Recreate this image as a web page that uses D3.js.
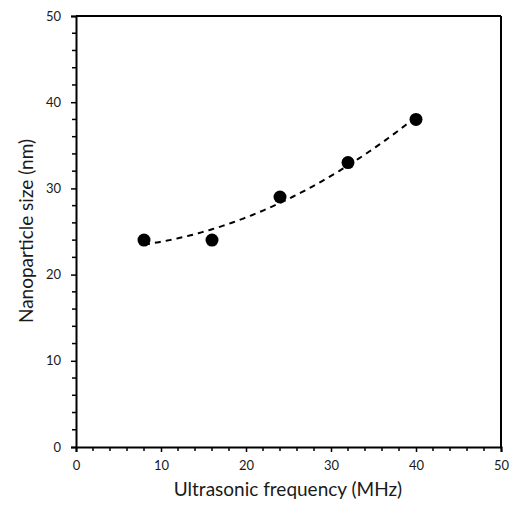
<!DOCTYPE html>
<html>
<head>
<meta charset="utf-8">
<script src="https://cdn.jsdelivr.net/npm/d3@7"></script>
<style>
body { margin: 0; background-color: white; }
text { font-family: Lato, "Open Sans", sans-serif; fill: #1a1a1a; }
</style>
</head>
<body>
<svg id="chart"></svg>
</body>
<script>
// measured points (MHz, nm)
var freq = [8, 16, 24, 32, 40];
var size = [24, 24, 29, 33, 38];
var xTicks = [0, 10, 20, 30, 40, 50];
var yTicks = [0, 10, 20, 30, 40, 50];

const width = 512;
const height = 509;
var svg = d3.select("#chart").attr("width", width).attr("height", height);

var xscale = d3.scaleLinear().domain([0, 50]).range([76, 501]);
var yscale = d3.scaleLinear().domain([0, 50]).range([447, 16]);

// second order polynomial trendline, least squares like excel does
function quadFit(xs, ys) {
  var n = xs.length, S = [0, 0, 0, 0, 0], T = [0, 0, 0];
  for (var i = 0; i < n; ++i) {
    for (var k = 0; k < 5; ++k) S[k] += Math.pow(xs[i], k);
    for (var k = 0; k < 3; ++k) T[k] += Math.pow(xs[i], k) * ys[i];
  }
  var M = [[S[0], S[1], S[2], T[0]], [S[1], S[2], S[3], T[1]], [S[2], S[3], S[4], T[2]]];
  for (var c = 0; c < 3; ++c) {
    for (var r = c + 1; r < 3; ++r) {
      var f = M[r][c] / M[c][c];
      for (var j = c; j < 4; ++j) M[r][j] -= f * M[c][j];
    }
  }
  var coef = [0, 0, 0];
  for (var r = 2; r >= 0; --r) {
    var s = M[r][3];
    for (var j = r + 1; j < 3; ++j) s -= M[r][j] * coef[j];
    coef[r] = s / M[r][r];
  }
  return (x) => coef[0] + coef[1] * x + coef[2] * x * x;
}
var fit = quadFit(freq, size);
var fitX = d3.range(freq[0], freq[freq.length - 1] + 0.01, 0.25);

// minor ticks
var minorX = d3.range(0, 50.01, 2).filter(d => d % 10 != 0);
var minorY = d3.range(0, 50.01, 2).filter(d => d % 10 != 0);

svg.append("g").selectAll("line").data(minorX).enter().append("line")
  .attr("x1", d => xscale(d)).attr("x2", d => xscale(d))
  .attr("y1", 447).attr("y2", 451).attr("stroke", "black").attr("stroke-width", 1.5);
svg.append("g").selectAll("line").data(minorY).enter().append("line")
  .attr("y1", d => yscale(d)).attr("y2", d => yscale(d))
  .attr("x1", 72).attr("x2", 76).attr("stroke", "black").attr("stroke-width", 1.5);

var xAxis = svg.append("g").attr("transform", "translate(0,447)")
  .call(d3.axisBottom(xscale).tickValues(xTicks).tickSize(5).tickPadding(9));
var yAxis = svg.append("g").attr("transform", "translate(76,0)")
  .call(d3.axisLeft(yscale).tickValues(yTicks).tickSize(5).tickPadding(10));
[xAxis, yAxis].forEach(function(a) {
  a.select(".domain").attr("stroke-width", 2);
  a.selectAll(".tick line").attr("stroke-width", 1.5);
  a.selectAll(".tick text").style("font-size", "13px").attr("fill", "#1a1a1a")
    .style("font-family", "Lato, sans-serif");
});

// top and right frame
svg.append("line").attr("x1", xscale(0)).attr("x2", xscale(50))
  .attr("y1", yscale(50)).attr("y2", yscale(50)).attr("stroke", "black").attr("stroke-width", 2);
svg.append("line").attr("x1", xscale(50)).attr("x2", xscale(50))
  .attr("y1", yscale(0)).attr("y2", yscale(50)).attr("stroke", "black").attr("stroke-width", 2);

var line = d3.line().x(d => xscale(d)).y(d => yscale(fit(d)));
svg.append("path").datum(fitX).attr("d", line)
  .attr("fill", "none").attr("stroke", "black").attr("stroke-width", 2)
  .attr("stroke-dasharray", "6,5");

svg.append("g").selectAll("circle").data(freq).enter().append("circle")
  .attr("cx", d => xscale(d)).attr("cy", (d, i) => yscale(size[i]))
  .attr("r", 6.5).attr("fill", "black");

svg.append("text").attr("x", 288).attr("y", 496).attr("text-anchor", "middle")
  .style("font-size", "19px").text("Ultrasonic frequency (MHz)");
svg.append("text").attr("transform", "translate(33,231) rotate(-90)")
  .attr("text-anchor", "middle").style("font-size", "19px").text("Nanoparticle size (nm)");
</script>
</html>
